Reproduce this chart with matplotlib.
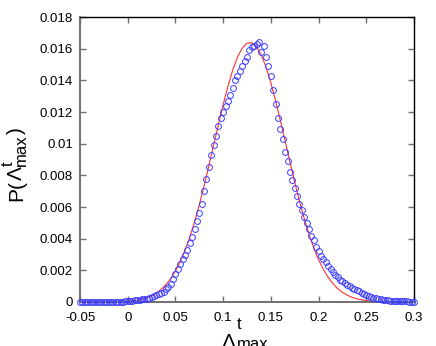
import numpy as np
import matplotlib.pyplot as plt
from matplotlib.ticker import FormatStrFormatter

plt.rcParams['font.family'] = ['Liberation Sans', 'DejaVu Sans']

W, H = 436, 346

# histogram points, x from -0.05 to 0.3 step 0.0025
x_pts = np.linspace(-0.05, 0.3, 141)
y_pts = [
    0.00001, 0.00001, 0.00001, 0.00001, 0.00001, 0.00001, 0.00001, 0.00001, 0.00001, 0.00001,
    0.00002, 0.00002, 0.00002, 0.00002, 0.00002, 0.00002, 0.00003, 0.00003, 0.00003, 0.00004,
    0.00005, 0.00007, 0.00008, 0.0001, 0.00012, 0.00014, 0.00016, 0.00019, 0.00022, 0.00027,
    0.00032, 0.00038, 0.00044, 0.0005, 0.00057, 0.00066, 0.0008, 0.00095, 0.00115, 0.00145,
    0.0018, 0.0021, 0.0024, 0.0027, 0.003, 0.0033, 0.0037, 0.0041, 0.0046, 0.0051,
    0.0056, 0.0062, 0.007, 0.0078, 0.0085, 0.0093, 0.0099, 0.0105, 0.0111, 0.0116,
    0.012, 0.0124, 0.0127, 0.0131, 0.0135, 0.014, 0.0143, 0.0146, 0.0149, 0.0152,
    0.0155, 0.0159, 0.0161, 0.0162, 0.0163, 0.0164, 0.0158, 0.0162, 0.0155, 0.0149,
    0.0143, 0.0134, 0.0125, 0.0116, 0.0109, 0.0103, 0.0095, 0.0089, 0.0082, 0.0077,
    0.0072, 0.0067, 0.0062, 0.0058, 0.0054, 0.005, 0.0046, 0.0042, 0.0039, 0.0035,
    0.0032, 0.0029, 0.0027, 0.0025, 0.0023, 0.0021, 0.0019, 0.0017, 0.00155, 0.0014,
    0.0013, 0.0012, 0.0011, 0.001, 0.0009, 0.00083, 0.00075, 0.00068, 0.0006, 0.00052,
    0.00045, 0.00039, 0.00033, 0.00028, 0.00023, 0.0002, 0.00016, 0.00014, 0.00012, 0.0001,
    0.00009, 0.00008, 0.00007, 0.00006, 0.00005, 0.00005, 0.00004, 0.00004, 0.00003, 0.00003,
    0.00003,
]

# fitted curve, x from -0.05 to 0.3 step 0.005
x_fit = np.linspace(-0.05, 0.3, 71)
y_fit = [
    0.0, 0.0, 0.000001, 0.000001, 0.000003, 0.000005, 0.000008, 0.000013, 0.000021, 0.000034,
    0.000053, 0.000082, 0.000126, 0.000188, 0.000277, 0.000401, 0.00057, 0.000796, 0.001092, 0.001473,
    0.001952, 0.00254, 0.003253, 0.00409, 0.005055, 0.006137, 0.007325, 0.008587, 0.009896, 0.011204,
    0.012466, 0.013628, 0.014642, 0.015459, 0.016036, 0.016348, 0.016377, 0.016121, 0.015595, 0.014822,
    0.013845, 0.012707, 0.011462, 0.010158, 0.008848, 0.007572, 0.006367, 0.005263, 0.004272, 0.00341,
    0.002673, 0.00206, 0.00156, 0.001161, 0.000848, 0.00061, 0.000431, 0.000299, 0.000204, 0.000136,
    0.00009, 0.000058, 0.000037, 0.000023, 0.000014, 0.000008, 0.000005, 0.000003, 0.000002, 0.000001,
    0.0,
]

x_ticks = [-0.05, 0, 0.05, 0.1, 0.15, 0.2, 0.25, 0.3]
y_ticks = [0, 0.002, 0.004, 0.006, 0.008, 0.01, 0.012, 0.014, 0.016, 0.018]

fig = plt.figure(figsize=(W / 100, H / 100), dpi=100)
ax = fig.add_axes([80 / W, 44 / H, 334 / W, 285 / H])

ax.plot(x_pts, y_pts, 'o', mfc='none', mec='#3c3cff', ms=4.2, mew=0.7, clip_on=False, zorder=3)
ax.plot(x_fit, y_fit, '-', color='#ff3030', lw=0.8, zorder=2)

ax.set_xlim(-0.05, 0.3)
ax.set_ylim(0, 0.018)
ax.set_xticks(x_ticks)
ax.set_yticks(y_ticks)
ax.xaxis.set_major_formatter(FormatStrFormatter('%g'))
ax.yaxis.set_major_formatter(FormatStrFormatter('%g'))
ax.tick_params(direction='in', top=True, right=True, length=4, width=1,
               color='#707070', labelsize=9.5)
ax.tick_params(axis='x', pad=7)
ax.tick_params(axis='y', pad=5)

for s in ['left', 'bottom']:
    ax.spines[s].set_color('#707070')
    ax.spines[s].set_linewidth(1.4)
for s in ['top', 'right']:
    ax.spines[s].set_color('black')
    ax.spines[s].set_linewidth(1.0)

# axis labels built from pieces, gnuplot style (sup/sub stacked)
r = fig.canvas.get_renderer()

def px(x, y):
    return x / W, 1 - y / H

# x label
fig.text(*px(222, 348), '\u039b', fontsize=15, ha='left', va='baseline')
fig.text(*px(237, 329), 't', fontsize=12, ha='left', va='baseline')
fig.text(*px(237, 349), 'max', fontsize=12, ha='left', va='baseline')

# y label (rotated, runs upward)
def ypiece(s, y0, xb, size):
    t = fig.text(*px(xb, y0), s, fontsize=size, rotation=90,
                 rotation_mode='anchor', ha='left', va='baseline')
    return y0 - t.get_window_extent(r).height

yb = 22
y = ypiece('P(', 201, yb, 15)
y = ypiece('\u039b', y, yb, 15)
y1 = ypiece('t', y, yb - 9, 12)
y2 = ypiece('max', y, yb + 4, 12)
ypiece(')', min(y1, y2), yb, 15)

fig.savefig('out.png', dpi=100)
